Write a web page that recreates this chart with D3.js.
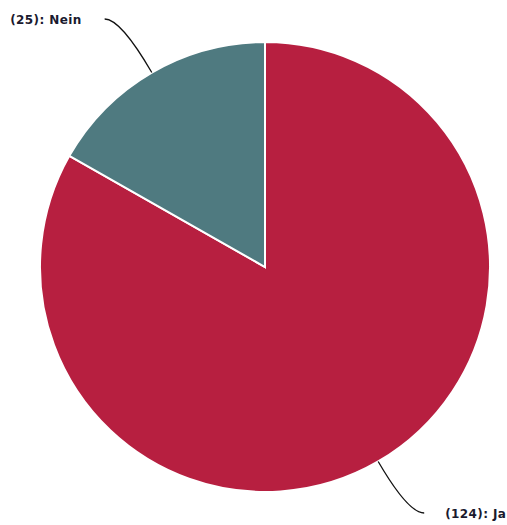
<!DOCTYPE html>
<html>
<head>
<meta charset="utf-8">
<script src="https://cdn.jsdelivr.net/npm/d3@7"></script>
<style>
  body { margin: 0; background: #fff; }
  text { font-family: "DejaVu Sans", Verdana, sans-serif; font-weight: bold; font-size: 12px; letter-spacing: 0.4px; fill: #1a1a2e; }
</style>
</head>
<body>
<div id="chart"></div>
<script>
var labels = ["Ja", "Nein"];
var counts = [124, 25];
var colors = ["#b71f40", "#4f7a80"];

var w = 507, h = 525;
var cx = 265, cy = 267, r = 225;

var svg = d3.select("#chart").append("svg")
  .attr("width", w).attr("height", h);

var g = svg.append("g").attr("transform", "translate(" + cx + "," + cy + ")");

var pie = d3.pie().sort(null).value(function(d) { return d; });
var arcs = pie(counts);
var arc = d3.arc().innerRadius(0).outerRadius(r);

g.selectAll("path.slice")
  .data(arcs)
  .enter().append("path")
  .attr("class", "slice")
  .attr("d", arc)
  .attr("fill", function(d, i) { return colors[i]; })
  .attr("stroke", "#fff")
  .attr("stroke-width", 2);

// leader lines + labels
arcs.forEach(function(d, i) {
  var mid = (d.startAngle + d.endAngle) / 2;
  var sx = Math.sin(mid) * r, sy = -Math.cos(mid) * r;
  var up = sy < 0;
  var ty = up ? -248 : 246;              // label line height (rel. to centre)
  var dx = Math.sin(mid), dy = -Math.cos(mid);
  var t = (ty - sy) / dy;
  var kx = sx + dx * t;                   // where radial line meets label row
  var left = sx < 0;
  var ex = kx + (left ? -16 : 16);
  var path = d3.path();
  path.moveTo(sx, sy);
  path.quadraticCurveTo(kx, ty, ex, ty);
  g.append("path")
    .attr("d", path.toString())
    .attr("fill", "none")
    .attr("stroke", "#111")
    .attr("stroke-width", 1.3);
  g.append("text")
    .attr("x", ex + (left ? -23 : 21))
    .attr("y", ty + 5)
    .attr("text-anchor", left ? "end" : "start")
    .text("(" + counts[i] + "): " + labels[i]);
});
</script>
</body>
</html>
